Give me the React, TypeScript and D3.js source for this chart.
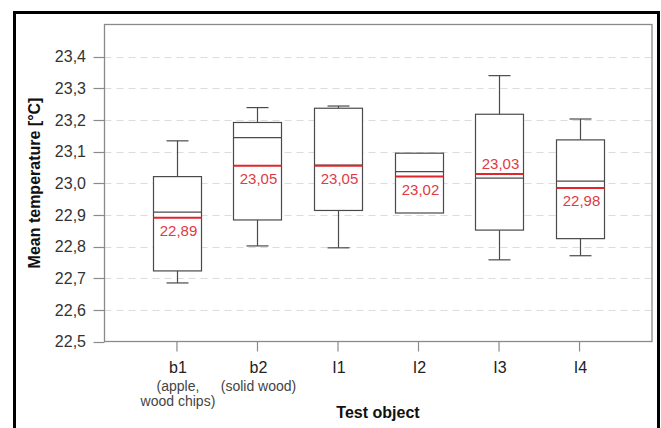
import React from "react";
import * as d3 from "d3";

const categories = ["b1", "b2", "I1", "I2", "I3", "I4"];
const subLabels: string[][] = [["(apple,", "wood chips)"], ["(solid wood)"], [], [], [], []];
const whiskerLow = [22.685, 22.802, 22.796, 22.906, 22.758, 22.771];
const q1 = [22.723, 22.884, 22.914, 22.906, 22.852, 22.825];
const medians = [22.909, 23.144, 23.057, 23.037, 23.016, 23.007];
const q3 = [23.021, 23.192, 23.237, 23.095, 23.218, 23.137];
const whiskerHigh = [23.134, 23.239, 23.244, 23.095, 23.34, 23.203];
const means = [22.891, 23.055, 23.055, 23.021, 23.029, 22.985];
const meanLabels = ["22,89", "23,05", "23,05", "23,02", "23,03", "22,98"];
const labelAbove = [false, false, false, false, true, false];
const yTicks = [22.5, 22.6, 22.7, 22.8, 22.9, 23.0, 23.1, 23.2, 23.3, 23.4];

const W = 661;
const H = 428;
const left = 104.5;
const right = 652;
const top = 24.5;
const bottom = 341.5;

export default function App() {
  const x = d3.scalePoint<string>().domain(categories).range([left, right]).padding(0.9);
  const y = d3.scaleLinear().domain([22.5, 23.5]).range([bottom, top + 0.5]);
  const fmt = (v: number) => d3.format(".1f")(v).replace(".", ",");
  const boxW = 48;
  const capW = 22;
  const font = "Arial, 'Liberation Sans', sans-serif";
  const boxColor = "#4a4a4a";
  const red = "#e0262b";
  return (
    <svg width={W} height={H} style={{ position: "absolute", left: 0, top: 0 }} fontFamily={font}>
      <rect x={0} y={0} width={W} height={H} fill="#fff" />
      <rect x={14.5} y={12.5} width={644} height={440} fill="none" stroke="#000" strokeWidth={3} />
      {/* grid */}
      {yTicks.filter((t) => t > 22.55).map((t) => (
        <line key={"g" + t} x1={left} x2={right} y1={Math.round(y(t)) + 0.5} y2={Math.round(y(t)) + 0.5}
          stroke="#dcdcdc" strokeWidth={1} strokeDasharray="7,5" />
      ))}
      {/* frame */}
      <rect x={left} y={top} width={right - left} height={bottom - top} fill="none" stroke="#8a8a8a" strokeWidth={1.3} />
      {/* y ticks */}
      {yTicks.map((t) => (
        <g key={"t" + t}>
          <line x1={left - 11} x2={left} y1={Math.round(y(t)) + 0.5} y2={Math.round(y(t)) + 0.5} stroke="#8a8a8a" strokeWidth={1.2} />
          <text x={86} y={y(t)} dy="0.36em" textAnchor="end" fontSize={16} fill="#333">{fmt(t)}</text>
        </g>
      ))}
      {/* x ticks and labels */}
      {categories.map((c, i) => {
        const cx = x(c) as number;
        return (
          <g key={"x" + c}>
            <line x1={cx} x2={cx} y1={bottom} y2={bottom + 10} stroke="#8a8a8a" strokeWidth={1.2} />
            <text x={cx + 1} y={373} textAnchor="middle" fontSize={16} fill="#222">{c}</text>
            {subLabels[i].map((s, j) => (
              <text key={j} x={cx + 1} y={391 + j * 14.5} textAnchor="middle" fontSize={14} fill="#444">{s}</text>
            ))}
          </g>
        );
      })}
      {/* boxes */}
      {categories.map((c, i) => {
        const cx = Math.round(x(c) as number) + 0.5;
        const yq1 = y(q1[i]);
        const yq3 = y(q3[i]);
        const ywl = y(whiskerLow[i]);
        const ywh = y(whiskerHigh[i]);
        const ym = y(medians[i]);
        const ymean = y(means[i]);
        return (
          <g key={"b" + c} stroke={boxColor} strokeWidth={1.2} fill="none">
            {whiskerHigh[i] > q3[i] + 0.001 && (
              <>
                <line x1={cx} x2={cx} y1={ywh} y2={yq3} />
                <line x1={cx - capW / 2} x2={cx + capW / 2} y1={ywh} y2={ywh} />
              </>
            )}
            {whiskerLow[i] < q1[i] - 0.001 && (
              <>
                <line x1={cx} x2={cx} y1={yq1} y2={ywl} />
                <line x1={cx - capW / 2} x2={cx + capW / 2} y1={ywl} y2={ywl} />
              </>
            )}
            <rect x={cx - boxW / 2} y={yq3} width={boxW} height={yq1 - yq3} fill="#fff" />
            <line x1={cx - boxW / 2} x2={cx + boxW / 2} y1={ym} y2={ym} />
            <line x1={cx - boxW / 2} x2={cx + boxW / 2} y1={ymean} y2={ymean} stroke={red} strokeWidth={2} />
            <text x={cx + 1} y={labelAbove[i] ? ymean - 5 : ymean + 18.5} textAnchor="middle" fontSize={15}
              fill="#e03a44" stroke="none">{meanLabels[i]}</text>
          </g>
        );
      })}
      {/* axis titles */}
      <text x={378} y={418} textAnchor="middle" fontSize={16} fontWeight="bold" fill="#111">Test object</text>
      <text transform={`translate(40,${(top + bottom) / 2}) rotate(-90)`} textAnchor="middle" fontSize={16}
        fontWeight="bold" fill="#111">Mean temperature [°C]</text>
    </svg>
  );
}
